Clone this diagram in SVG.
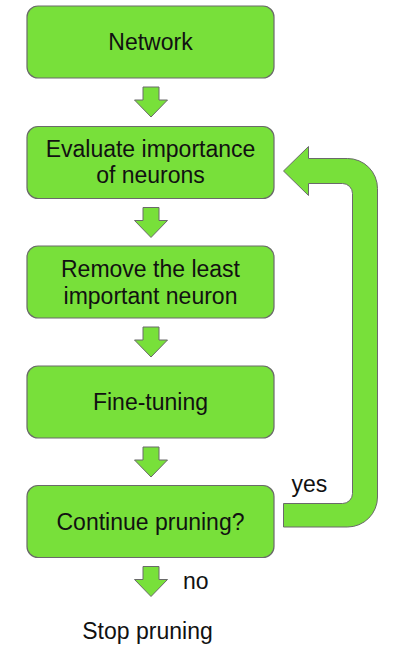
<svg xmlns="http://www.w3.org/2000/svg" xmlns:xlink="http://www.w3.org/1999/xlink" width="417" height="661" viewBox="0 0 417 661">
<style>
.box{fill:#78e03a;stroke:#6a6a6a;stroke-width:1.2}
.arr{fill:#78e03a;stroke:#6a6a6a;stroke-width:1}
.t{font-family:"Liberation Sans",Arial,sans-serif;font-size:23px;fill:#111;text-anchor:middle}
.l{font-family:"Liberation Sans",Arial,sans-serif;font-size:23px;fill:#111}
</style>
<defs>
<path id="down" d="M143 0H159V13H167.5L151 30L134.5 13H143Z"/>
</defs>
<rect width="417" height="661" fill="#fff"/>
<g id="n1"><rect class="box" x="27" y="6" width="247" height="72" rx="11"/><text class="t" x="150.5" y="50">Network</text></g>
<g id="n2"><rect class="box" x="27" y="126.5" width="247" height="72" rx="11"/><text class="t" x="150.5" y="156.5">Evaluate importance</text><text class="t" x="150.5" y="183">of neurons</text></g>
<g id="n3"><rect class="box" x="27" y="246" width="247" height="72" rx="11"/><text class="t" x="150.5" y="277">Remove the least</text><text class="t" x="150.5" y="304">important neuron</text></g>
<g id="n4"><rect class="box" x="27" y="366" width="247" height="72" rx="11"/><text class="t" x="150.5" y="410">Fine-tuning</text></g>
<g id="n5"><rect class="box" x="27" y="485.5" width="247" height="72" rx="11"/><text class="t" x="150.5" y="530">Continue pruning?</text></g>
<g id="n6"><text class="t" x="147.5" y="639">Stop pruning</text></g>
<g id="connectors">
<use xlink:href="#down" class="arr" y="87"/>
<use xlink:href="#down" class="arr" y="207.5"/>
<use xlink:href="#down" class="arr" y="327"/>
<use xlink:href="#down" class="arr" y="447"/>
<use xlink:href="#down" class="arr" y="566.5"/>
<path class="arr" d="M283.5 171L308.5 146.5V158.5H347.5A30 30 0 0 1 377.5 188.5V497A30 30 0 0 1 347.5 527H283.5V503.5H342.5A10 10 0 0 0 352.5 493.5V193.5A10 10 0 0 0 342.5 183.5H308.5V195.5Z"/>
<text class="l" x="291.5" y="492">yes</text>
<text class="l" x="183" y="589">no</text>
</g>
</svg>
